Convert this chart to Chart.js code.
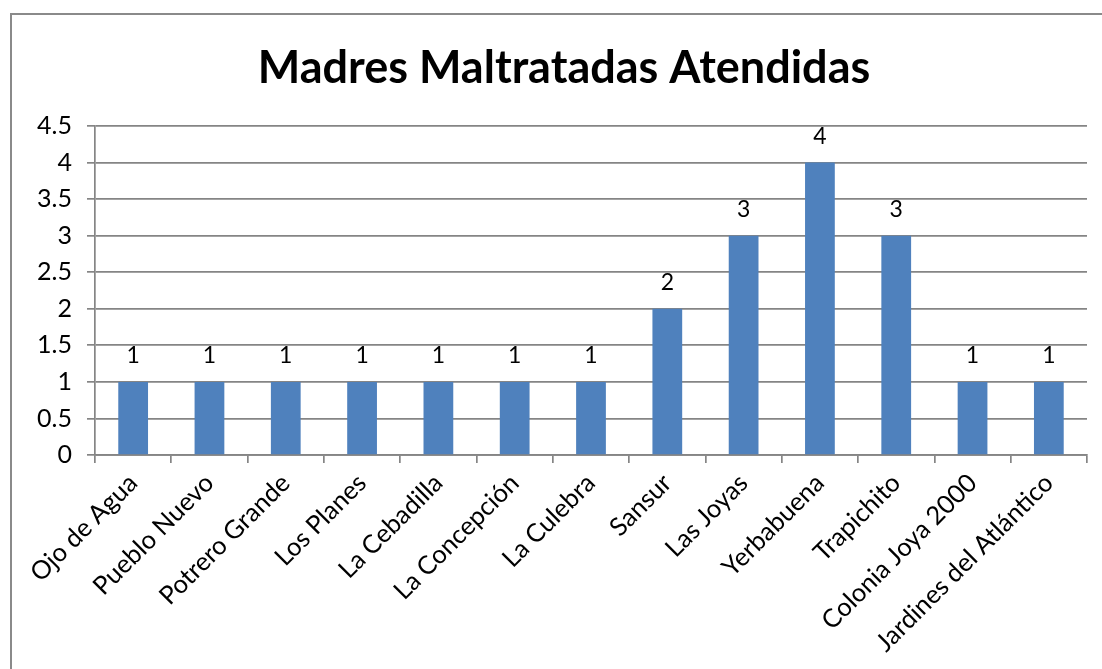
<!DOCTYPE html>
<html>
<head>
<meta charset="utf-8">
<script src="https://cdn.jsdelivr.net/npm/chart.js@4.4.0/dist/chart.umd.min.js"></script>
<style>
  html, body { margin: 0; padding: 0; background: #fff; }
  #wrap { position: relative; width: 1102px; height: 669px; overflow: hidden; }
  #frame { position: absolute; left: 10px; top: 13px; width: 1200px; height: 800px; border: 2px solid #8a8a8a; }
  canvas { position: absolute; left: 0; top: 0; }
</style>
</head>
<body>
<div id="wrap">
  <div id="frame"></div>
  <canvas id="chart" width="1102" height="669"></canvas>
</div>
<script>
const chartTitle = "Madres Maltratadas Atendidas";
const communities = [
  "Ojo de Agua", "Pueblo Nuevo", "Potrero Grande", "Los Planes", "La Cebadilla",
  "La Concepción", "La Culebra", "Sansur", "Las Joyas", "Yerbabuena",
  "Trapichito", "Colonia Joya 2000", "Jardines del Atlántico"
];
const mothers = [1, 1, 1, 1, 1, 1, 1, 2, 3, 4, 3, 1, 1];
const yTicks = [0, 0.5, 1, 1.5, 2, 2.5, 3, 3.5, 4, 4.5];

const fontFamily = "Lato, 'Open Sans', sans-serif";

// title drawn by hand so the plot area can be placed exactly
const titlePlugin = {
  id: "titleText",
  afterDraw(chart) {
    const ctx = chart.ctx;
    ctx.save();
    ctx.font = "bold 45px " + fontFamily;
    ctx.fillStyle = "#000";
    ctx.textAlign = "center";
    ctx.textBaseline = "middle";
    ctx.fillText(chartTitle, 564, 68);
    ctx.restore();
  }
};

const valueLabels = {
  id: "valueLabels",
  afterDatasetsDraw(chart) {
    const ctx = chart.ctx;
    const meta = chart.getDatasetMeta(0);
    ctx.save();
    ctx.font = "23px " + fontFamily;
    ctx.fillStyle = "#000";
    ctx.textAlign = "center";
    ctx.textBaseline = "middle";
    meta.data.forEach((bar, i) => {
      ctx.fillText(String(mothers[i]), bar.x, bar.y - 26);
    });
    ctx.restore();
  }
};

new Chart(document.getElementById("chart").getContext("2d"), {
  type: "bar",
  data: {
    labels: communities,
    datasets: [{
      data: mothers,
      backgroundColor: "#4f81bd",
      borderWidth: 0,
      categoryPercentage: 1,
      barPercentage: 0.39,
    }],
  },
  options: {
    responsive: false,
    animation: false,
    layout: { padding: { left: 0, right: 15, top: 126, bottom: 0 } },
    plugins: {
      legend: { display: false },
      title: { display: false },
      tooltip: { enabled: false },
    },
    scales: {
      x: {
        afterFit(scale) { scale.height = 214; },
        grid: {
          offset: true,
          drawOnChartArea: false,
          drawTicks: true,
          tickLength: 8,
          color: "#858585",
          lineWidth: 1.7,
        },
        border: { color: "#858585", width: 1.7 },
        ticks: {
          minRotation: 45,
          maxRotation: 45,
          autoSkip: false,
          color: "#000",
          padding: 5,
          font: { family: fontFamily, size: 25.5 },
        },
      },
      y: {
        min: 0,
        max: 4.5,
        afterFit(scale) { scale.width = 95; },
        afterBuildTicks(scale) { scale.ticks = yTicks.map((v) => ({ value: v })); },
        grid: {
          color: "#858585",
          lineWidth: 1.7,
          tickLength: 8,
        },
        border: { color: "#858585", width: 1.7 },
        ticks: {
          color: "#000",
          padding: 15,
          font: { family: fontFamily, size: 25 },
          callback: (value) => String(value),
        },
      },
    },
  },
  plugins: [titlePlugin, valueLabels],
});
</script>
</body>
</html>
